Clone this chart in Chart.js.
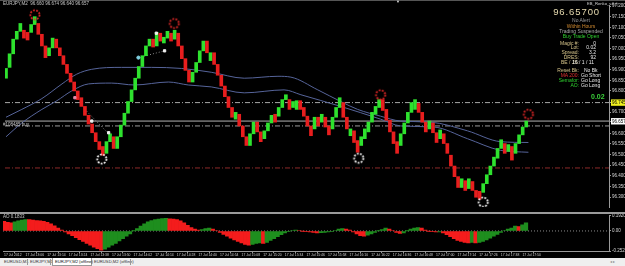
<!DOCTYPE html>
<html><head><meta charset="utf-8">
<script src="https://cdn.jsdelivr.net/npm/chart.js@4.4.1/dist/chart.umd.min.js"></script>
<style>
html,body{margin:0;padding:0;background:#000;width:625px;height:266px;overflow:hidden;font-family:"Liberation Sans",Arial,sans-serif;}
#wrap{position:relative;width:625px;height:266px;background:#000;}
canvas{position:absolute;left:0;display:block;}
#main{top:0;}
#ao{top:212px;}
.t{position:absolute;white-space:nowrap;line-height:1;}
.r{text-align:right;}
.sep{position:absolute;background:#a0a0a0;}
#tabs{position:absolute;left:0;top:258px;width:625px;height:8px;background:#efefef;}
.tab{position:absolute;top:1.5px;font-size:4.2px;color:#333;white-space:nowrap;line-height:1;}
</style>
</head><body><div id="wrap">
<canvas id="main" width="625" height="212"></canvas>
<canvas id="ao" width="625" height="46"></canvas>
<div class="sep" style="left:0;top:0;width:625px;height:1px;background:#555"></div>
<div class="sep" style="left:0;top:212px;width:625px;height:2px;background:#9a9a9a"></div>

<div class="t" style="left:3px;top:2px;font-size:4.5px;color:#c8c8c8">EURJPY,M2&nbsp;&nbsp;96.660 96.674 96.640 96.657</div>
<div class="t" style="left:396px;top:0px;font-size:4px;color:#ddd">▼</div>
<div class="t" style="left:3px;top:123px;font-size:4.5px;color:#c0c0c0">#108485 buy</div>

<div class="t" style="left:587px;top:2px;font-size:4.2px;color:#d0d0d0">EB_Renko_v4 ◷</div>
<div class="t r" style="right:25px;top:7px;font-size:9.5px;letter-spacing:0.9px;color:#e8dcb0">96.65700</div>
<div class="t" style="left:550px;width:62px;text-align:center;top:18px;font-size:5px;color:#9a9a9a">No Alert</div>
<div class="t" style="left:550px;width:62px;text-align:center;top:23.5px;font-size:5px;color:#d08a30">Within Hours</div>
<div class="t" style="left:550px;width:62px;text-align:center;top:28.5px;font-size:5px;color:#a8a8a8">Trading Suspended</div>
<div class="t" style="left:550px;width:62px;text-align:center;top:33.5px;font-size:5px;color:#2fd02f">Buy Trade Open</div>

<div class="t r" style="right:46px;top:40.5px;font-size:5px;color:#d6c48a">Magic #:</div>
<div class="t r" style="right:29px;top:40.5px;font-size:5px;color:#e8e8e8">0</div>
<div class="t r" style="right:46px;top:45px;font-size:5px;color:#d6c48a">Lot:</div>
<div class="t r" style="right:29px;top:45px;font-size:5px;color:#e8e8e8">0.02</div>
<div class="t r" style="right:46px;top:50px;font-size:5px;color:#d6c48a">Spread:</div>
<div class="t r" style="right:29px;top:50px;font-size:5px;color:#e8e8e8">3.2</div>
<div class="t r" style="right:46px;top:54.5px;font-size:5px;color:#d6c48a">DRES:</div>
<div class="t r" style="right:29px;top:54.5px;font-size:5px;color:#e8e8e8">92</div>
<div class="t r" style="right:46px;top:59.5px;font-size:5px;color:#d6c48a">BE / JS:</div>
<div class="t r" style="right:31px;top:59.5px;font-size:5px;color:#e8e8e8">16 / 1 / 11</div>

<div class="t r" style="right:46px;top:67.5px;font-size:5px;color:#d6c48a">Reset Bk:</div>
<div class="t" style="left:584px;top:67.5px;font-size:5px;color:#e8e8e8">No Bk</div>
<div class="t r" style="right:46px;top:72.5px;font-size:5px;color:#e03030">MA 200:</div>
<div class="t" style="left:581px;top:72.5px;font-size:5px;color:#e8e8e8">Go Short</div>
<div class="t r" style="right:46px;top:77.5px;font-size:5px;color:#2fd02f">Semafor:</div>
<div class="t" style="left:581px;top:77.5px;font-size:5px;color:#e8e8e8">Go Long</div>
<div class="t r" style="right:46px;top:82.5px;font-size:5px;color:#2fd02f">AO:</div>
<div class="t" style="left:581px;top:82.5px;font-size:5px;color:#e8e8e8">Go Long</div>
<div class="t" style="left:591px;top:93px;font-size:7px;font-weight:bold;color:#3ad03a">0.02</div>

<div class="t" style="left:3px;top:215px;font-size:4.5px;color:#c8c8c8">AO 0.1833</div>

<div id="tabs">
  <div class="tab" style="left:4px">EURUSD,M1</div>
  <div class="sep" style="left:27px;top:1px;width:1px;height:6px;background:#999"></div>
  <div class="tab" style="left:30px">EURJPY,M1</div>
  <div class="sep" style="left:50px;top:1px;width:1px;height:6px;background:#999"></div>
  <div style="position:absolute;left:52px;top:0;width:38px;height:7px;background:#fff;border:1px solid #999;border-top:none"></div>
  <div class="tab" style="left:55px;color:#111">EURJPY,M2 (offline)</div>
  <div class="tab" style="left:94px">EURUSD,M2 (offline)</div>
  <div class="sep" style="left:130px;top:1px;width:1px;height:6px;background:#999"></div>
  <div class="tab" style="left:610px;color:#888">◂ ▸</div>
</div>
</div>
<script>
// ---------- DATA ----------
const opens = [96.860,96.911,96.975,97.044,97.081,97.086,97.076,97.076,97.113,97.118,
97.067,97.012,96.966,97.003,97.044,97.003,96.966,96.925,96.883,96.842,
96.800,96.768,96.727,96.685,96.644,96.603,96.561,96.538,96.506,96.561,
96.584,96.529,96.584,96.639,96.695,96.750,96.805,96.860,96.915,96.966,
97.012,97.044,97.012,97.072,97.026,97.049,97.072,97.044,97.072,97.012,
96.952,96.897,96.842,96.888,96.934,96.989,97.035,96.943,96.980,96.925,
96.874,96.823,96.773,96.722,96.667,96.690,96.635,96.584,96.543,96.598,
96.653,96.607,96.575,96.612,96.649,96.690,96.681,96.722,96.759,96.759,
96.722,96.713,96.754,96.722,96.681,96.635,96.621,96.676,96.653,96.676,
96.635,96.621,96.676,96.722,96.745,96.676,96.589,96.612,96.566,96.543,
96.575,96.607,96.653,96.690,96.722,96.759,96.713,96.662,96.607,96.561,
96.543,96.598,96.649,96.699,96.713,96.741,96.699,96.653,96.621,96.649,
96.603,96.575,96.598,96.552,96.497,96.446,96.396,96.345,96.377,96.340,
96.373,96.331,96.327,96.322,96.363,96.405,96.446,96.483,96.529,96.552,
96.515,96.538,96.506,96.552,96.593,96.630];
const closes = [96.906,96.975,97.044,97.081,97.118,97.049,97.040,97.113,97.150,97.067,
97.012,96.957,97.003,97.049,97.003,96.966,96.925,96.883,96.842,96.800,
96.759,96.727,96.685,96.644,96.603,96.561,96.524,96.497,96.561,96.598,
96.529,96.584,96.639,96.695,96.750,96.805,96.860,96.915,96.966,97.012,
97.044,97.007,97.076,97.035,97.053,97.081,97.035,97.086,97.012,96.952,
96.897,96.842,96.888,96.934,96.989,97.035,96.980,96.980,96.925,96.874,
96.823,96.773,96.722,96.676,96.699,96.635,96.584,96.543,96.598,96.653,
96.607,96.561,96.612,96.649,96.685,96.653,96.722,96.759,96.782,96.713,
96.750,96.754,96.713,96.681,96.635,96.589,96.676,96.635,96.690,96.630,
96.593,96.676,96.722,96.768,96.676,96.621,96.621,96.557,96.511,96.584,
96.621,96.653,96.699,96.727,96.759,96.708,96.662,96.607,96.552,96.506,
96.598,96.649,96.699,96.745,96.759,96.699,96.653,96.607,96.658,96.603,
96.557,96.616,96.552,96.506,96.446,96.396,96.345,96.386,96.331,96.386,
96.331,96.299,96.290,96.363,96.405,96.446,96.488,96.529,96.570,96.506,
96.547,96.474,96.552,96.593,96.630,96.658];
const maUpper = [[0,96.676],[4.4,96.713],[10,96.764],[15.6,96.833],[19.7,96.879],[23.9,96.902],[32.2,96.911],[40.6,96.911],[48.9,96.906],[57.2,96.888],[66.4,96.860],[75.8,96.869],[79.4,96.865],[86.9,96.805],[93.3,96.750],[98,96.713],[104.4,96.681],[110,96.658],[118.3,96.653],[128.6,96.612],[137.8,96.561],[145.6,96.557]];
const maLower = [[0,96.584],[4.4,96.649],[10,96.713],[14.2,96.754],[18.3,96.800],[23,96.833],[29.4,96.837],[35.8,96.828],[45.3,96.842],[50.8,96.828],[57.2,96.819],[66.4,96.791],[77.5,96.805],[82.2,96.782],[93.3,96.727],[104.4,96.667],[110,96.635],[119.2,96.630],[128.6,96.575],[137.8,96.520],[145.6,96.511]];
const levelPrices = [96.745, 96.658, 96.635, 96.437];
const peakMarks = [[8.05,97.159],[46.9,97.118],[104.4,96.782],[145.6,96.690]];
const troughMarks = [[26.7,96.479],[98.3,96.483],[133,96.276]];
const tradeWhite = [[23.9,96.658],[28.6,96.603],[41.9,97.072],[44.2,96.989]];
const tradePink = [[19.2,96.768]];
const tradeCyan = [[36.9,96.957]];
const tradePath1 = [[22.5,96.704],[28.6,96.598]];
const tradePath2 = [[36.9,96.957],[44.2,96.989]];
const priceTicks = [97.200,97.150,97.100,97.050,97.000,96.950,96.900,96.850,96.800,96.745,96.700,96.657,96.600,96.550,96.500,96.450,96.400,96.350,96.300];
const aoValues = [0.120,0.108,0.102,0.114,0.126,0.138,0.144,0.142,0.138,0.132,
0.126,0.120,0.108,0.090,0.066,0.036,0.012,-0.012,-0.036,-0.060,
-0.084,-0.108,-0.132,-0.156,-0.180,-0.204,-0.222,-0.240,-0.228,-0.204,
-0.180,-0.156,-0.126,-0.096,-0.066,-0.036,0.002,0.030,0.060,0.090,
0.114,0.132,0.144,0.150,0.156,0.158,0.154,0.150,0.144,0.126,
0.102,0.072,0.042,0.024,0.012,0.018,0.030,0.036,0.024,0.006,
-0.018,-0.042,-0.066,-0.090,-0.114,-0.132,-0.150,-0.168,-0.180,-0.168,
-0.156,-0.150,-0.156,-0.144,-0.120,-0.096,-0.072,-0.048,-0.024,-0.006,
0.006,0.012,0.006,-0.001,-0.006,-0.012,-0.018,-0.024,-0.022,-0.018,
-0.012,-0.006,0.006,0.024,0.030,0.024,0.012,-0.012,-0.036,-0.060,
-0.066,-0.054,-0.036,-0.018,0.001,0.018,0.036,0.024,0.006,-0.018,
-0.030,-0.024,0.001,0.024,0.036,0.042,0.036,0.012,-0.001,-0.006,
-0.012,-0.011,-0.024,-0.048,-0.072,-0.096,-0.120,-0.132,-0.144,-0.150,
-0.144,-0.150,-0.144,-0.132,-0.114,-0.090,-0.066,-0.042,-0.018,0.006,
0.024,0.036,0.060,0.054,0.078,0.102];
const aoTicks = [0.192, 0, -0.252];
const timeTickIdx = [0,6,12,18,24,30,36,42,48,54,60,66,72,78,84,90,96,102,108,114,120,126,132,138,144];
const timeLabels = ["17 Jul 2012","17 Jul 13:06","17 Jul 13:14","17 Jul 13:24","17 Jul 13:38","17 Jul 13:50","17 Jul 14:02","17 Jul 14:14","17 Jul 14:28","17 Jul 14:40","17 Jul 14:54","17 Jul 15:08","17 Jul 15:20","17 Jul 15:34","17 Jul 15:46","17 Jul 15:58","17 Jul 16:10","17 Jul 16:22","17 Jul 16:36","17 Jul 16:48","17 Jul 17:00","17 Jul 17:14","17 Jul 17:26","17 Jul 17:38","17 Jul 17:50"];

// ---------- STYLE ----------
const X_MIN = -0.28, X_MAX = 168.06;
const GREEN = '#2ee22e', RED = '#e81e1e';
const AO_GREEN = '#1e8e1e', AO_RED = '#f41c1c';
const pts = a => a.map(([x,y]) => ({x, y}));

function sun(color){
  const c = document.createElement('canvas'); c.width = 14; c.height = 14;
  const g = c.getContext('2d'); g.strokeStyle = color; g.lineWidth = 1.8; g.setLineDash([1.8,1.4]);
  g.beginPath(); g.arc(7,7,4.6,0,Math.PI*2); g.stroke(); return c;
}
const levelStyles = [
  {c:'#a8a8a8', d:[5,2,1,2]},
  {c:'#b4b4b4', d:[]},
  {c:'#9a9a9a', d:[5,2,1,2]},
  {c:'#8c2a2a', d:[5,2,1,2]}
];

const datasets = [];
datasets.push({type:'bar', data: opens.map((o,i)=>({x:i, y:[o, closes[i]]})),
  backgroundColor: opens.map((o,i)=> closes[i] >= o ? GREEN : RED),
  barThickness: 3, grouped:false, order: 2});
levelPrices.forEach((p,k)=>datasets.push({type:'line', data:[{x:X_MIN,y:p},{x:X_MAX,y:p}],
  borderColor: levelStyles[k].c, borderDash: levelStyles[k].d, borderWidth:1, pointRadius:0, order: 5}));
datasets.push({type:'line', data: pts(maUpper), borderColor:'#56649a', borderWidth:1, pointRadius:0, cubicInterpolationMode:'monotone', order:4});
datasets.push({type:'line', data: pts(maLower), borderColor:'#56649a', borderWidth:1, pointRadius:0, cubicInterpolationMode:'monotone', order:4});
datasets.push({type:'line', data: pts(tradePath1), borderColor:'#8a8a8a', borderDash:[1,2], borderWidth:1, pointRadius:0, order:3});
datasets.push({type:'line', data: pts(tradePath2), borderColor:'#8a8a8a', borderDash:[1,2], borderWidth:1, pointRadius:0, order:3});
datasets.push({type:'line', showLine:false, data: pts(tradeWhite), pointStyle:'rect', pointRadius:1.6, backgroundColor:'#f0f0f0', borderColor:'#f0f0f0', order:1});
datasets.push({type:'line', showLine:false, data: pts(tradePink), pointStyle:'rect', pointRadius:1.6, backgroundColor:'#e58aa8', borderColor:'#e58aa8', order:1});
datasets.push({type:'line', showLine:false, data: pts(tradeCyan), pointStyle:'circle', pointRadius:1.6, backgroundColor:'#7fd0e0', borderColor:'#7fd0e0', order:1});
datasets.push({type:'line', showLine:false, data: pts(peakMarks), pointStyle: sun('#e02828'), order:0});
datasets.push({type:'line', showLine:false, data: pts(troughMarks), pointStyle: sun('#f4f4f4'), order:0});

const tickFont = {family:'Liberation Sans', size:4.5};
const special = {96.745:['#f0f020','#000'], 96.657:['#ffffff','#000']};

new Chart(document.getElementById('main'), {
  type:'bar',
  data:{datasets},
  options:{
    animation:false, responsive:false, events:[],
    plugins:{legend:{display:false}, tooltip:{enabled:false}},
    layout:{padding:{left:3, top:3, right:0, bottom:2}},
    scales:{
      x:{type:'linear', min:X_MIN, max:X_MAX, display:false, offset:false},
      y:{type:'linear', position:'right', min:96.253, max:97.205,
        afterFit(s){ s.width = 16; },
        afterBuildTicks(s){ s.ticks = priceTicks.map(v=>({value:v})); },
        grid:{display:true, drawOnChartArea:false, tickLength:2, color:'#999'},
        border:{display:true, color:'#9a9a9a'},
        ticks:{font:tickFont, padding:1, autoSkip:false,
          color: c => special[c.tick.value] ? special[c.tick.value][1] : '#d8d8d8',
          showLabelBackdrop: c => !!special[c.tick.value],
          backdropColor: c => special[c.tick.value] ? special[c.tick.value][0] : 'rgba(0,0,0,0)',
          backdropPadding: {top:0.5,bottom:0.5,left:1,right:2},
          callback: v => v.toFixed(3)}
      }
    }
  }
});

new Chart(document.getElementById('ao'), {
  type:'bar',
  data:{datasets:[
    {type:'bar', data: aoValues.map((v,i)=>({x:i, y:v})),
      backgroundColor: aoValues.map((v,i)=> (i>0 && v > aoValues[i-1]) ? AO_GREEN : AO_RED),
      barThickness: 3.6, grouped:false, order:1},
    {type:'line', data:[{x:X_MIN,y:0},{x:X_MAX,y:0}], borderColor:'#8a8a8a', borderDash:[1,2], borderWidth:1, pointRadius:0, order:2}
  ]},
  options:{
    animation:false, responsive:false, events:[],
    plugins:{legend:{display:false}, tooltip:{enabled:false}},
    layout:{padding:{left:3, top:2, right:0, bottom:0}},
    scales:{
      x:{type:'linear', min:X_MIN, max:X_MAX, offset:false,
        afterFit(s){ s.height = 7; },
        afterBuildTicks(s){ s.ticks = timeTickIdx.map(v=>({value:v})); },
        grid:{display:true, drawOnChartArea:false, tickLength:2, color:'#999'},
        border:{display:true, color:'#9a9a9a'},
        ticks:{font:{family:'Liberation Sans', size:3.4}, color:'#d0d0d0', padding:0, autoSkip:false, maxRotation:0, align:'start',
          callback:(v,i)=> timeLabels[i]}
      },
      y:{type:'linear', position:'right', min:-0.252, max:0.192,
        afterFit(s){ s.width = 16; },
        afterBuildTicks(s){ s.ticks = aoTicks.map(v=>({value:v})); },
        grid:{display:true, drawOnChartArea:false, tickLength:2, color:'#999'},
        border:{display:true, color:'#9a9a9a'},
        ticks:{font:tickFont, color:'#d8d8d8', padding:1, autoSkip:false,
          callback: v => v === 0 ? '0.00' : v.toFixed(4)}
      }
    }
  }
});
</script>
</body></html>
